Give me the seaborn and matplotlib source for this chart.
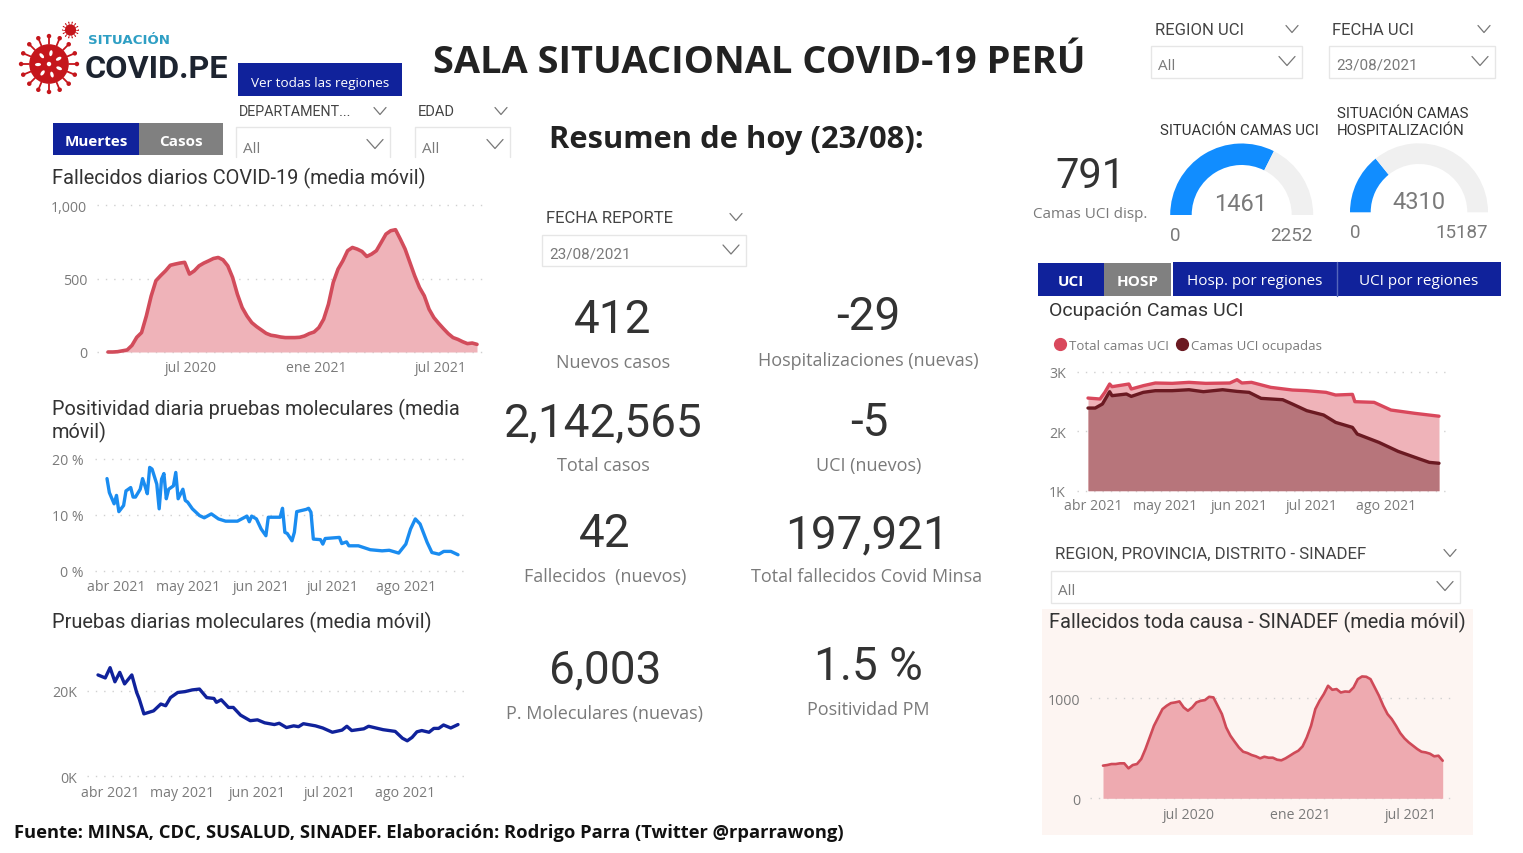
import numpy as np
import pandas as pd
import matplotlib
matplotlib.use("Agg")
import matplotlib.pyplot as plt
import matplotlib.dates as mdates
from matplotlib.lines import Line2D
from matplotlib.patches import Rectangle, Circle, Ellipse
import seaborn as sns

# Fallecidos diarios COVID-19, un valor por semana desde 02/03/2020
deaths_start = "2020-03-02"
deaths_vals = [0, 0, 2, 8, 14, 45, 100, 132, 245, 380, 485, 520, 552, 590, 598, 605, 610, 530, 552, 586,
               605, 620, 636, 643, 627, 586, 507, 393, 302, 245, 200, 173, 150, 127, 114, 109, 102, 98, 98, 98,
               100, 109, 125, 136, 166, 223, 325, 473, 564, 620, 689, 711, 700, 684, 650, 666, 689, 745, 802, 825,
               832, 768, 700, 609, 518, 439, 382, 291, 234, 195, 159, 125, 98, 86, 70, 57, 61, 52]

# Fallecidos toda causa SINADEF, un valor por semana desde 10/02/2020
sinadef_start = "2020-02-10"
sinadef_vals = [326, 332, 342, 342, 349, 349, 299, 332, 342, 392, 492, 608, 724, 807, 890, 924, 950, 957, 967, 907,
                874, 907, 957, 973, 980, 1013, 1007, 924, 841, 708, 625, 565, 508, 465, 452, 432, 419, 399, 415, 405,
                405, 385, 379, 399, 425, 452, 475, 518, 608, 724, 890, 973, 1040, 1123, 1083, 1090, 1056, 1066, 1063, 1106,
                1189, 1216, 1213, 1189, 1106, 1023, 924, 841, 791, 724, 651, 598, 558, 525, 492, 465, 458, 445, 419, 425, 375]

# Positividad: dias desde 28/03/2021 y valor en %
pos_start = "2021-03-28"
pos_days = [0, 1, 3, 4, 5, 7, 8, 10, 11, 12, 14, 15, 16, 17, 18, 19, 21, 22, 23, 24, 25, 26, 28, 29, 30,
            32, 33, 34, 36, 39, 41, 44, 47, 50, 55, 59, 60, 61, 63, 65, 67, 68, 73, 74, 75, 76, 78, 79, 80, 84,
            85, 86, 87, 90, 91, 92, 98, 99, 101, 102, 106, 111, 116, 119, 123, 126, 128, 130, 132, 135, 137, 140, 142, 145, 148]
pos_vals = [16.5, 14.0, 12.0, 13.5, 10.6, 11.7, 14.3, 14.9, 13.2, 13.2, 14.6, 16.5, 15.2, 13.8, 18.5, 18.2, 15.5, 11.1, 16.4, 17.4, 12.9, 14.6, 15.2, 17.6, 12.9,
            14.6, 12.6, 12.3, 11.1, 9.9, 9.5, 10.2, 9.3, 8.9, 8.9, 9.8, 8.8, 9.8, 9.3, 7.5, 6.3, 9.6, 9.6, 11.2, 6.9, 6.7, 5.4, 6.9, 10.6, 11.0,
            11.2, 10.5, 5.7, 5.6, 4.8, 5.8, 6.0, 4.9, 5.2, 4.5, 4.5, 3.8, 3.6, 3.7, 3.2, 4.8, 7.5, 9.3, 8.4, 5.1, 3.3, 3.0, 3.5, 3.5, 2.9]

# Pruebas moleculares: dias desde 27/03/2021 y valor en miles
tests_start = "2021-03-27"
tests_days = [0, 3, 5, 7, 9, 11, 14, 16, 17, 19, 23, 26, 28, 30, 33, 36, 39, 42, 45, 48, 49, 51, 54, 56, 59, 63, 66, 69, 73,
              75, 78, 81, 83, 85, 90, 93, 97, 101, 103, 105, 110, 112, 118, 123, 126, 128, 130, 132, 134, 137, 139, 141, 143, 146, 149]
tests_vals = [23.7, 23.0, 25.4, 22.1, 24.3, 21.6, 23.7, 19.6, 18.2, 14.6, 15.3, 16.9, 16.5, 18.4, 19.6, 19.8, 20.2, 20.4, 18.4, 18.2, 17.3, 17.9, 16.1, 16.1, 14.3, 13.0, 13.2, 12.5, 12.1,
              12.4, 11.4, 11.8, 11.6, 12.3, 11.8, 11.3, 10.3, 10.8, 11.7, 10.7, 11.1, 11.7, 10.9, 10.5, 8.9, 8.3, 9.1, 10.4, 10.7, 10.3, 11.2, 11.2, 12.0, 11.3, 12.1]

# Camas UCI: dias desde 30/03/2021
uci_start = "2021-03-30"
uci_total_days = [0, 5, 7, 9, 10, 17, 18, 23, 28, 35, 42, 49, 59, 62, 64, 68, 76, 85, 91, 99, 103, 110, 111, 119, 126, 136, 146]
uci_total_vals = [2557, 2541, 2653, 2793, 2748, 2793, 2709, 2765, 2810, 2804, 2821, 2804, 2810, 2866, 2810, 2821, 2737, 2692, 2681, 2653, 2608, 2619, 2496, 2485, 2356, 2300, 2252]
uci_occ_days = [0, 3, 6, 9, 10, 16, 18, 23, 28, 35, 42, 48, 56, 62, 67, 72, 81, 85, 91, 98, 103, 110, 112, 121, 129, 138, 142, 146]
uci_occ_vals = [2389, 2389, 2457, 2664, 2597, 2625, 2585, 2653, 2681, 2681, 2697, 2664, 2697, 2669, 2653, 2552, 2529, 2457, 2345, 2272, 2148, 2064, 1952, 1812, 1661, 1532, 1476, 1461]

# Medidores
gauge_uci = [1461, 2252]
gauge_hosp = [4310, 15187]

# Etiquetas de ejes
long_ticks = ["2020-07-01", "2021-01-01", "2021-07-01"]
long_labels = ["jul 2020", "ene 2021", "jul 2021"]
short_ticks = ["2021-04-01", "2021-05-01", "2021-06-01", "2021-07-01", "2021-08-01"]
short_labels = ["abr 2021", "may 2021", "jun 2021", "jul 2021", "ago 2021"]

# Tarjetas: valor, leyenda, x, y del valor, y de la leyenda
kpi_cards = [
    ("412", "Nuevos casos", 613, 317, 361),
    ("-29", "Hospitalizaciones (nuevas)", 868, 314, 359),
    ("2,142,565", "Total casos", 603, 420, 464),
    ("-5", "UCI (nuevos)", 869, 420, 464),
    ("42", "Fallecidos  (nuevos)", 605, 531, 575),
    ("197,921", "Total fallecidos Covid Minsa", 867, 532, 575),
    ("6,003", "P. Moleculares (nuevas)", 605, 667, 712),
    ("1.5 %", "Positividad PM", 868, 664, 708),
]

END_DATE = "2021-08-23"
W, H = 1523, 854
DIN = "Roboto"
UI = "Open Sans"
NAVY = "#10229b"
GREY_BTN = "#808080"
INK = "#333333"
MUTED = "#7a7a7a"
RED = "#d24c5b"
PINK = "#efb3b9"


def to_dates(start, days):
    return pd.Timestamp(start) + pd.to_timedelta(days, unit="D")


def weekly(start, vals):
    return pd.DataFrame({"fecha": pd.date_range(start, periods=len(vals), freq="7D"), "valor": vals})


def by_days(start, days, vals):
    return pd.DataFrame({"fecha": to_dates(start, days), "valor": vals})


def text(bg, x, y, s, size, color=INK, ha="left", weight="normal", family=DIN):
    # va=center queda algo alto por los descendentes, se compensa con el tamano
    y = y + size * (0.14 if family == UI else 0.09)
    bg.text(x, y, s, fontsize=size, color=color, ha=ha, va="center", fontweight=weight, family=family)


def chevron(bg, x, y, w=6, h=3.5):
    bg.plot([x - w, x, x + w], [y - h, y + h, y - h], color="#777777", lw=0.9)


def slicer(bg, label, label_x, label_y, chev_x, box, value, open_bottom=False, size=12):
    x0, y0, x1, y1 = box
    text(bg, label_x, label_y, label, size, color="#444444")
    chevron(bg, chev_x, label_y + 1)
    shift = 0
    if open_bottom:
        shift = 3
        bg.plot([x0, x0, x1, x1], [y1, y0, y0, y1], color="#e6e6e6", lw=1)
    else:
        bg.add_patch(Rectangle((x0, y0), x1 - x0, y1 - y0, fc="white", ec="#e6e6e6", lw=1))
    text(bg, x0 + 7, (y0 + y1) / 2 + 2 + shift, value, 11, color=MUTED, family=UI if value == "All" else DIN)
    chevron(bg, x1 - 15, (y0 + y1) / 2 - 1 + shift, w=8, h=4.5)


def button(bg, x0, x1, y0, y1, color, label, weight="normal", size=11, dy=0):
    bg.add_patch(Rectangle((x0, y0), x1 - x0, y1 - y0, fc=color, ec="none"))
    text(bg, (x0 + x1) / 2, (y0 + y1) / 2 + dy, label, size, color="white", ha="center", weight=weight, family=UI)


def chart_axes(fig, grid_x, grid_y, data_x, start, end=END_DATE):
    # rectangulo en pixeles, limites de fecha calculados desde donde empieza y acaba la serie
    gx0, gx1 = grid_x
    top, bottom = grid_y
    ax = fig.add_axes([gx0 / W, 1 - bottom / H, (gx1 - gx0) / W, (bottom - top) / H], facecolor="none")
    d0 = mdates.date2num(pd.Timestamp(start))
    d1 = mdates.date2num(pd.Timestamp(end))
    per_px = (d1 - d0) / (data_x[1] - data_x[0])
    ax.set_xlim(d0 - (data_x[0] - gx0) * per_px, d1 + (gx1 - data_x[1]) * per_px)
    return ax


def style_axis(ax, yticks, ylabels, xticks, xlabels, ypad=7, xpad=6):
    ax.set_xlabel("")
    ax.set_ylabel("")
    ax.set_yticks(yticks)
    ax.set_yticklabels(ylabels, family=UI, fontsize=10.2, color=MUTED)
    ax.set_xticks([mdates.date2num(pd.Timestamp(t)) for t in xticks])
    ax.set_xticklabels(xlabels, family=UI, fontsize=10.2, color=MUTED)
    ax.tick_params(axis="both", length=0)
    ax.tick_params(axis="y", pad=ypad)
    ax.tick_params(axis="x", pad=xpad)
    ax.grid(False)
    for t in yticks:
        ax.axhline(t, color="#d0d0d0", lw=1, ls=(0, (1, 5)), zorder=0, clip_on=False)
    for spine in ax.spines.values():
        spine.set_visible(False)


def area_line(ax, df, line_color, fill_color, lw, floor=0):
    ax.fill_between(df["fecha"], df["valor"], floor, color=fill_color, lw=0, zorder=1)
    sns.lineplot(data=df, x="fecha", y="valor", color=line_color, lw=lw, ax=ax, zorder=2, clip_on=False)


def gauge(fig, cx, cy, radius, width, value, maximum):
    # anillo de media vuelta: la mitad inferior queda transparente
    size = radius * 2
    ax = fig.add_axes([(cx - radius) / W, 1 - (cy + radius) / H, size / W, size / H])
    ax.pie([value, maximum - value, maximum], startangle=180, counterclock=False, radius=1,
           colors=["#118dff", "#f0f0f0", "none"], wedgeprops=dict(width=width / radius, lw=0))
    ax.set_xlim(-1, 1)
    ax.set_ylim(-1, 1)


def draw_logo(bg):
    red = "#c5161c"
    for cx, cy, r, spikes in [(49, 65, 30, 16), (70.5, 31, 8.5, 14)]:
        body = r * 0.66
        bg.add_patch(Circle((cx, cy), body, fc=red, ec="none"))
        for a in np.linspace(0, 2 * np.pi, spikes, endpoint=False):
            bg.plot([cx + body * np.cos(a), cx + r * 0.93 * np.cos(a)],
                    [cy + body * np.sin(a), cy + r * 0.93 * np.sin(a)], color=red, lw=1.3 if r > 10 else 0.6)
            bg.add_patch(Circle((cx + r * 0.93 * np.cos(a), cy + r * 0.93 * np.sin(a)), r * 0.075, fc=red, ec="none"))
        if r > 10:
            for a in np.linspace(0.4, 2 * np.pi + 0.4, 7, endpoint=False):
                bg.add_patch(Ellipse((cx + 11 * np.cos(a), cy + 11 * np.sin(a)), 6, 3.2, angle=np.degrees(a),
                                     fc="white", ec="none"))
            bg.add_patch(Circle((cx, cy), 2.2, fc="white", ec="none"))
    text(bg, 88, 40, "SITUACIÓN", 9.6, color="#2f9fc4", weight="bold", family="DejaVu Sans")
    text(bg, 85, 67, "COVID.PE", 23.3, color="#1d2430", weight="bold", family="Roboto")


def main():
    sns.set_theme(style="white")
    fig = plt.figure(figsize=(W / 100, H / 100), dpi=100, facecolor="white")

    bg = fig.add_axes([0, 0, 1, 1])
    bg.set_xlim(0, W)
    bg.set_ylim(H, 0)
    bg.axis("off")

    draw_logo(bg)
    text(bg, 433, 59, "SALA SITUACIONAL COVID-19 PERÚ", 27.4, color="#222222", weight="bold", family=UI)
    text(bg, 549, 137, "Resumen de hoy (23/08):", 22.2, color="#222222", weight="bold", family=UI)
    text(bg, 14, 831, "Fuente: MINSA, CDC, SUSALUD, SINADEF. Elaboración: Rodrigo Parra (Twitter @rparrawong)",
         13.2, color="#111111", weight="bold", family=UI)

    button(bg, 238, 402, 64, 97, NAVY, "Ver todas las regiones", size=9.7, dy=1.5)
    button(bg, 53, 139, 124, 156, NAVY, "Muertes", weight="bold", size=11)
    button(bg, 139, 223, 124, 156, GREY_BTN, "Casos", weight="bold", size=11)
    button(bg, 1038, 1104, 264, 297, NAVY, "UCI", weight="bold", size=11)
    button(bg, 1104, 1171, 264, 297, GREY_BTN, "HOSP", weight="bold", size=11)
    button(bg, 1173, 1337, 263, 297, NAVY, "Hosp. por regiones", size=11)
    button(bg, 1337, 1501, 263, 297, NAVY, "UCI por regiones", size=11)
    bg.plot([1337, 1337], [263, 297], color="#5566bb", lw=1)

    slicer(bg, "DEPARTAMENT...", 239, 111, 380, (236, 128, 390, 158), "All", open_bottom=True, size=10.3)
    slicer(bg, "EDAD", 418, 111, 501, (415, 128, 510, 158), "All", open_bottom=True, size=10.5)
    slicer(bg, "REGION UCI", 1155, 29, 1292, (1151, 47, 1302, 79), "All")
    slicer(bg, "FECHA UCI", 1332, 29, 1484, (1329, 47, 1495, 79), "23/08/2021")
    slicer(bg, "FECHA REPORTE", 546, 217, 736, (542, 236, 746, 267), "23/08/2021")
    slicer(bg, "REGION, PROVINCIA, DISTRITO - SINADEF", 1055, 553, 1450, (1051, 572, 1460, 604), "All", size=12.1)

    for value, label, x, y_value, y_label in kpi_cards:
        text(bg, x, y_value, value, 33, color=INK, ha="center")
        text(bg, x, y_label, label, 13, color=MUTED, ha="center", family=UI)
    text(bg, 1090, 174, "791", 30, color=INK, ha="center")
    text(bg, 1090, 213, "Camas UCI disp.", 11, color=MUTED, ha="center", family=UI)

    text(bg, 52, 177, "Fallecidos diarios COVID-19 (media móvil)", 14.4)
    text(bg, 52, 408, "Positividad diaria pruebas moleculares (media", 14.3)
    text(bg, 52, 431, "móvil)", 14.3)
    text(bg, 52, 621, "Pruebas diarias moleculares (media móvil)", 14.4)
    text(bg, 1049, 310, "Ocupación Camas UCI", 14)
    text(bg, 1160, 130, "SITUACIÓN CAMAS UCI", 10.8)
    text(bg, 1337, 113, "SITUACIÓN CAMAS", 10.8)
    text(bg, 1337, 130, "HOSPITALIZACIÓN", 10.8)

    # fondo de la tarjeta SINADEF
    bg.add_patch(Rectangle((1042, 610), 431, 226, fc="#fdf5f2", ec="none", zorder=0))
    text(bg, 1049, 621, "Fallecidos toda causa - SINADEF (media móvil)", 14.4)

    # Fallecidos diarios
    ax = chart_axes(fig, (97, 488), (206, 353), (108, 477), deaths_start)
    ax.set_ylim(0, 1000)
    area_line(ax, weekly(deaths_start, deaths_vals), RED, PINK, 2.6)
    style_axis(ax, [0, 500, 1000], ["0", "500", "1,000"], long_ticks, long_labels)

    # Positividad
    ax = chart_axes(fig, (95, 470), (460, 572), (107, 458), pos_start)
    ax.set_ylim(0, 20)
    sns.lineplot(data=by_days(pos_start, pos_days, pos_vals), x="fecha", y="valor", color="#1a8cf0", lw=2.4, ax=ax)
    style_axis(ax, [0, 10, 20], ["0 %", "10 %", "20 %"], short_ticks, short_labels, ypad=8)

    # Pruebas
    ax = chart_axes(fig, (87, 470), (649, 777.3), (98, 458), tests_start)
    ax.set_ylim(0, 30)
    sns.lineplot(data=by_days(tests_start, tests_days, tests_vals), x="fecha", y="valor", color="#10229b", lw=2.4, ax=ax)
    style_axis(ax, [0, 20], ["0K", "20K"], short_ticks, short_labels)

    # Camas UCI
    ax = chart_axes(fig, (1077, 1445), (372.7, 491.7), (1088, 1439), uci_start)
    ax.set_ylim(1000, 3000)
    area_line(ax, by_days(uci_start, uci_total_days, uci_total_vals), "#d9485c", PINK, 2.4, floor=1000)
    area_line(ax, by_days(uci_start, uci_occ_days, uci_occ_vals), "#6b1a22", "#b7757b", 2.4, floor=1000)
    style_axis(ax, [1000, 2000, 3000], ["1K", "2K", "3K"], short_ticks, short_labels, ypad=8, xpad=5)
    handles = [Line2D([], [], ls="", marker="o", ms=8.5, color="#d9485c"),
               Line2D([], [], ls="", marker="o", ms=8.5, color="#6b1a22")]
    leg = ax.legend(handles, ["Total camas UCI", "Camas UCI ocupadas"], ncol=2, frameon=False, loc="lower left",
                    bbox_to_anchor=(-0.096, 1.125), borderaxespad=0, handletextpad=-0.35, columnspacing=0.05,
                    prop={"family": UI, "size": 9.5})
    for t in leg.get_texts():
        t.set_color(MUTED)

    # SINADEF
    ax = chart_axes(fig, (1090, 1453), (649, 799.3), (1103, 1442.7), sinadef_start)
    ax.set_ylim(0, 1500)
    area_line(ax, weekly(sinadef_start, sinadef_vals), "#cf4a58", "#eeaab0", 1.9)
    style_axis(ax, [0, 1000], ["0", "1000"], long_ticks, long_labels)

    # Medidores
    gauge(fig, 1241.7, 216, 71.5, 21.5, gauge_uci[0], gauge_uci[1])
    gauge(fig, 1419, 213.3, 69, 20.7, gauge_hosp[0], gauge_hosp[1])
    text(bg, 1241, 203, str(gauge_uci[0]), 17, color=MUTED, ha="center")
    text(bg, 1175, 235, "0", 13.5, color=MUTED, ha="center")
    text(bg, 1313, 235, str(gauge_uci[1]), 13.5, color=MUTED, ha="right")
    text(bg, 1419, 201, str(gauge_hosp[0]), 17, color=MUTED, ha="center")
    text(bg, 1355, 232, "0", 13.5, color=MUTED, ha="center")
    text(bg, 1488, 232, str(gauge_hosp[1]), 13.5, color=MUTED, ha="right")

    fig.savefig("out.png", dpi=100)


if __name__ == "__main__":
    main()
